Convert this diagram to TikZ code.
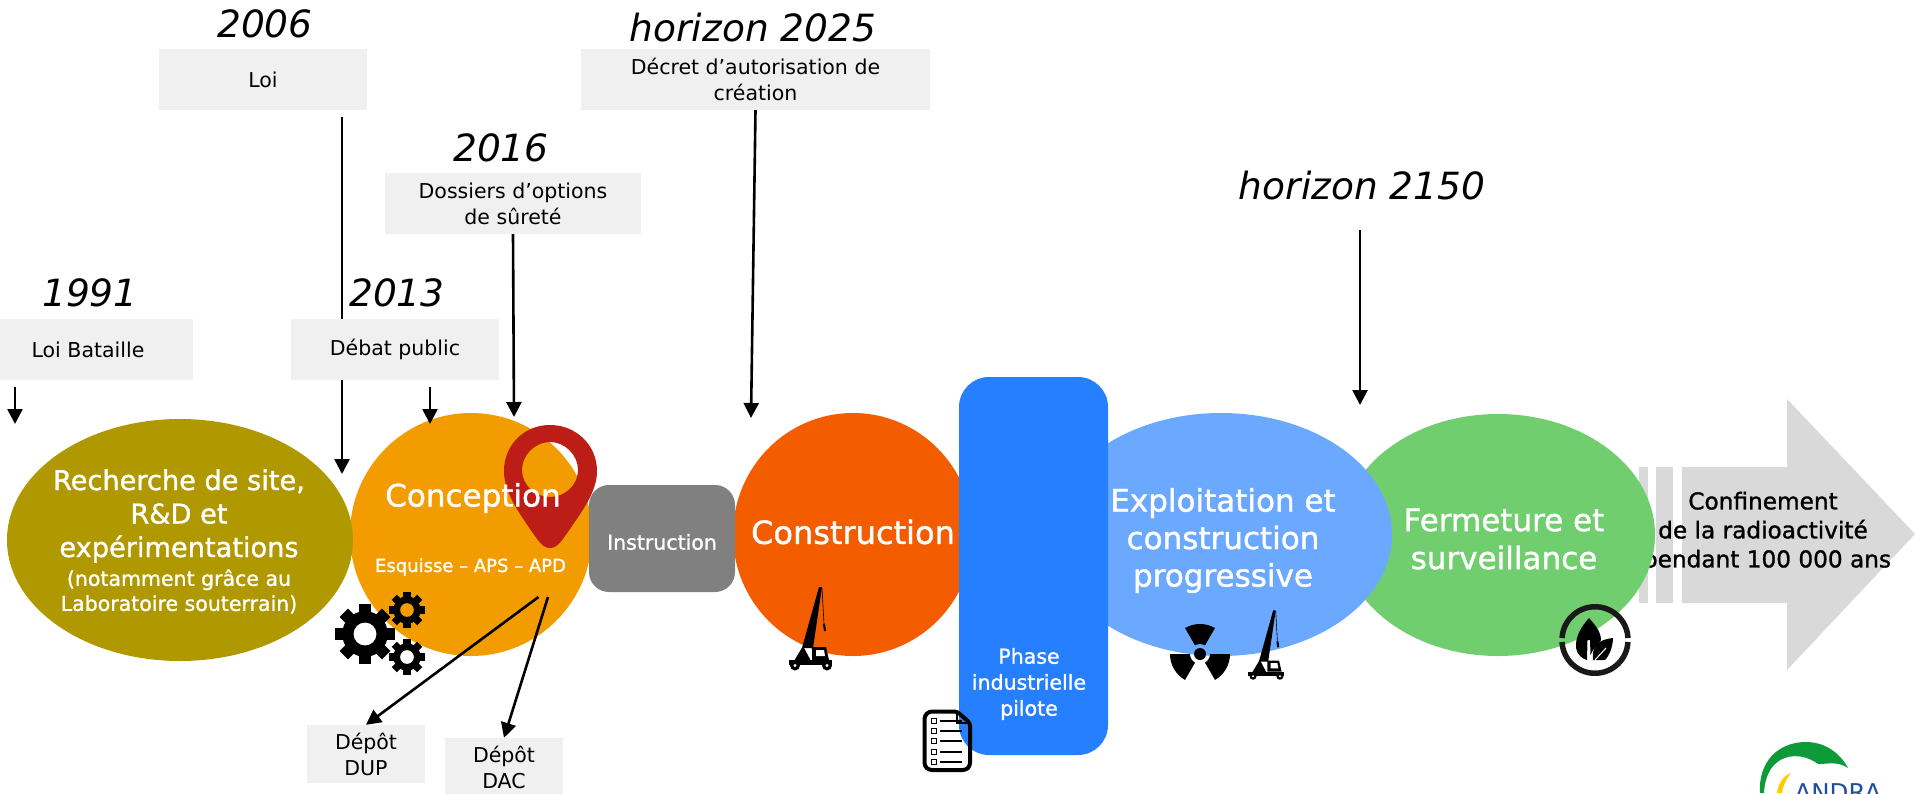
\documentclass[tikz,border=0pt]{standalone}
\usepackage{fontspec}
\setmainfont{DejaVu Sans}
\newfontfamily\medfont[FakeBold=1.2]{DejaVu Sans}
\usetikzlibrary{arrows.meta,shapes.geometric}
\definecolor{cOlive}{HTML}{B09800}
\definecolor{cOrange}{HTML}{F39C00}
\definecolor{cConstr}{HTML}{F45C00}
\definecolor{cPhase}{HTML}{267FFF}
\definecolor{cExpl}{HTML}{6BA8FF}
\definecolor{cFerm}{HTML}{71CE6F}
\definecolor{cInstr}{HTML}{808080}
\definecolor{cBox}{HTML}{F0F0F0}
\definecolor{cArrow}{HTML}{D9D9D9}
\definecolor{cPin}{HTML}{BC1E17}
\definecolor{cLogoG}{HTML}{0F9A3A}
\definecolor{cLogoY}{HTML}{FFCC00}
\definecolor{cLogoB}{HTML}{1F4E9C}
\tikzset{
  phaseell/.style={ellipse,inner sep=0pt,draw=none},
  labelbox/.style={rectangle,fill=cBox,inner sep=0pt,align=center,text=black,font=\fontsize{20.5}{26}\selectfont},
  yearlabel/.style={text=black,inner sep=0pt,font=\fontsize{37.5}{40}\selectfont\itshape},
  whitetxt/.style={text=white,inner sep=0pt,align=center},
  conn/.style={draw=black,line width=2.6pt,-{Triangle[length=15pt,width=15pt]}},
}
\newcommand{\gearicon}[4]{%
  \begin{scope}[shift={(#1,#2)}]
    \fill[black] (0,0) circle[radius=0.76*#3 pt];
    \foreach \a in {0,45,...,315}{
      \fill[black,rotate=\a] (0.6*#3,-0.2*#3) rectangle (#3,0.2*#3);
    }
    \fill[#4] (0,0) circle[radius=0.38*#3 pt];
  \end{scope}}
\newcommand{\craneicon}[3]{%
  \begin{scope}[shift={(#1,#2)},scale=#3]
    \fill[black] (13,-22) -- (30,-83) -- (33,-83) -- (24,-22) -- cycle;
    \fill[black] (5,-9) -- (14,-24) -- (22,-9) -- cycle;
    \draw[black,line width=0.6pt] (33,-82) -- (35,-46);
    \draw[black,line width=2pt] (35,-46) -- (36,-39);
    \fill[black] (0,-10) rectangle (43,-5);
    \fill[black] (23,-23) -- (37,-23) -- (40,-10) -- (23,-10) -- cycle;
    \fill[white] (27,-20) -- (35,-20) -- (36,-14) -- (27,-14) -- cycle;
    \fill[black] (6,-4.5) circle[radius=5pt*#3];
    \fill[black] (38,-4.5) circle[radius=5pt*#3];
    \fill[white] (6,-4.5) circle[radius=1.6pt*#3];
    \fill[white] (38,-4.5) circle[radius=1.6pt*#3];
  \end{scope}}
\begin{document}
\begin{tikzpicture}[x=1pt,y=-1pt]
\useasboundingbox (0,0) rectangle (1915,793);
\clip (0,0) rectangle (1915,793);
\fill[white] (0,0) rectangle (1915,793);

% grey arrow (behind the green ellipse)
\fill[cArrow] (1639,467) rectangle (1648,603);
\fill[cArrow] (1656,467) rectangle (1673,603);
\fill[cArrow] (1682,467) -- (1787,467) -- (1787,399) -- (1915,534) -- (1787,670) -- (1787,603) -- (1682,603) -- cycle;
\node[text=black,inner sep=0pt,align=center,font=\medfont\fontsize{23.2}{29}\selectfont] (confinement) at (1763,532) {Confinement\\de la radioactivité\\\hspace*{8pt}pendant 100 000 ans};

% phases
\node[phaseell,fill=cFerm,minimum width=314pt,minimum height=242pt] (fermeture) at (1498,535) {};
\node[phaseell,fill=cOrange,minimum width=242pt,minimum height=243pt] (conception) at (471,534.5) {};
\node[phaseell,fill=cOlive,minimum width=346pt,minimum height=242pt] (recherche) at (180,540) {};
\node[phaseell,fill=cConstr,minimum width=240pt,minimum height=243pt] (construction) at (853,534.5) {};
\node[phaseell,fill=cExpl,minimum width=342pt,minimum height=243pt] (exploitation) at (1221,534.5) {};
\node[rectangle,fill=cPhase,rounded corners=30pt,inner sep=0pt,minimum width=149pt,minimum height=378pt] (pilote) at (1033.5,566) {};

% location pin
\fill[cPin,even odd rule] (550,548)
   .. controls (542,548) and (538,540) .. (530,529)
   .. controls (518,511) and (504,492) .. (504,471)
   .. controls (504,445) and (524,425) .. (550,425)
   .. controls (576,425) and (597,445) .. (597,471)
   .. controls (597,492) and (582,511) .. (570,529)
   .. controls (562,540) and (558,548) .. (550,548) -- cycle
   (550,442) .. controls (535,442) and (522,455) .. (522,470)
   .. controls (522,485) and (535,497) .. (550,497)
   .. controls (565,497) and (578,485) .. (578,470)
   .. controls (578,455) and (565,442) .. (550,442) -- cycle;

\node[rectangle,fill=cInstr,rounded corners=20pt,inner sep=0pt,minimum width=146pt,minimum height=107pt] (instruction) at (662,538.5) {};

% phase texts
\node[whitetxt,font=\medfont\fontsize{27.2}{33.5}\selectfont] (tRech) at (179,516) {Recherche de site,\\R\&D et\\expérimentations};
\node[whitetxt,font=\medfont\fontsize{20.5}{25}\selectfont] (tRech2) at (179,591.5) {(notamment grâce au\\Laboratoire souterrain)};
\node[whitetxt,font=\medfont\fontsize{31}{34}\selectfont] (tConc) at (473,498) {Conception};
\node[whitetxt,font=\medfont\fontsize{18}{22}\selectfont] (tEsq) at (470.5,567) {Esquisse – APS – APD};
\node[whitetxt,font=\medfont\fontsize{20.5}{25}\selectfont] (tInstr) at (662,542) {Instruction};
\node[whitetxt,font=\medfont\fontsize{32}{35}\selectfont] (tConstr) at (853,532) {Construction};
\node[whitetxt,font=\medfont\fontsize{20.5}{26}\selectfont] (tPilote) at (1029,684) {Phase\\industrielle\\pilote};
\node[whitetxt,font=\medfont\fontsize{31}{37.5}\selectfont] (tExpl) at (1223,540.5) {Exploitation et\\construction\\progressive};
\node[whitetxt,font=\medfont\fontsize{31}{38}\selectfont] (tFerm) at (1504,539) {Fermeture et\\surveillance};

% connector ends
\coordinate (loiS) at (342,117);
\coordinate (loiE) at (342,474);
\coordinate (batS) at (15,387);
\coordinate (batE) at (15,424);
\coordinate (debS) at (430,387);
\coordinate (debE) at (430,424);
\coordinate (dosE) at (514,417);
\coordinate (decE) at (751,418);
\coordinate (horS) at (1360,230);
\coordinate (horE) at (1360,405);
\coordinate (dupS) at (538.5,597);
\coordinate (dacS) at (548,597);

\draw[conn] (loiS) -- (loiE);

% label boxes
\node[labelbox,minimum width=208pt,minimum height=61pt] (loi) at (263,79.5) {Loi};
\node[labelbox,minimum width=349pt,minimum height=61pt] (decret) at (755.5,79.5) {Décret d’autorisation de\\création};
\node[labelbox,minimum width=256pt,minimum height=61pt] (dossiers) at (513,203.5) {Dossiers d’options\\de sûreté};
\node[labelbox,minimum width=210pt,minimum height=61pt] (bataille) at (88,349.5) {Loi Bataille};
\node[labelbox,minimum width=208pt,minimum height=61pt] (debat) at (395,349.5) {Débat public};
\node[labelbox,minimum width=118pt,minimum height=58pt] (dup) at (366,754) {Dépôt\\DUP};
\node[labelbox,minimum width=118pt,minimum height=58pt] (dac) at (504,767) {Dépôt\\DAC};

% year labels
\node[yearlabel] (y2006) at (265,24) {2006};
\node[yearlabel] (y2025) at (753,28) {horizon 2025};
\node[yearlabel] (y2016) at (501,148) {2016};
\node[yearlabel] (y1991) at (90,293) {1991};
\node[yearlabel] (y2013) at (397,293) {2013};
\node[yearlabel] (y2150) at (1362,186) {horizon 2150};

% connectors
\draw[conn] (batS) -- (batE);
\draw[conn] (debS) -- (debE);
\draw[conn] (dossiers.south) -- (dosE);
\draw[conn] (decret.south) -- (decE);
\draw[conn] (horS) -- (horE);
\draw[conn] (dupS) -- (dup.north);
\draw[conn] (dacS) -- (dac.north);

% gears
\gearicon{365}{634}{30}{white}
\gearicon{407}{610}{18}{cOrange}
\gearicon{407}{657}{18}{white}

% cranes
\craneicon{789}{670}{1}
\craneicon{1248}{680}{0.84}

% radiation symbol
\begin{scope}[shift={(1200,654)}]
  \fill[black] (0,0) circle[radius=6pt];
  \foreach \a in {60,180,300}{
    \fill[black] (\a:10pt) -- (\a:30pt) arc[start angle=\a,delta angle=60,radius=30pt] -- (\a+60:10pt) arc[start angle=\a+60,delta angle=-60,radius=10pt] -- cycle;
  }
\end{scope}

% document icon
\draw[black,line width=4pt,line join=round,rounded corners=3pt] (957,711.5) -- (929,711.5) -- (924.5,716) -- (924.5,766) -- (929,770) -- (966,770) -- (970,766) -- (970,723) -- cycle;
\draw[black,line width=1.8pt] (957,711.5) -- (957,723) -- (970,723);
\foreach \yy in {721,731,741,752,762}{
  \draw[black,line width=1.4pt] (931.5,\yy-2.5) rectangle (936.5,\yy+2.5);
  \draw[black,line width=2.4pt] (940,\yy) -- (962,\yy);
}

% leaf icon
\draw[black!90,line width=5.5pt] (1628,638) arc[start angle=3,end angle=177,radius=33pt];
\draw[black!90,line width=5.5pt] (1562,642) arc[start angle=183,end angle=357,radius=33pt];
\fill[black] (1589,618) .. controls (1582,626) and (1575,636) .. (1576,648)
  .. controls (1577,655) and (1583,659) .. (1587,660) -- (1587.5,640) -- (1590,640) -- (1590.5,655)
  .. controls (1595,645) and (1600,642) .. (1601,640) .. controls (1601,630) and (1592,622) .. (1589,618) -- cycle;
\fill[black] (1613,638) .. controls (1604,639) and (1596,642) .. (1594,649)
  .. controls (1592,654) and (1593,657) .. (1593,660) -- (1605,660)
  .. controls (1610,655) and (1613,645) .. (1613,638) -- cycle;
\draw[white,line width=1pt] (1595,660) -- (1606,648);

% ANDRA logo
\fill[cLogoG] (1760,793) .. controls (1758,762) and (1778,742) .. (1806,742)
  .. controls (1825,742) and (1840,753) .. (1848,768)
  .. controls (1838,761) and (1828,764) .. (1818,764)
  .. controls (1800,750) and (1766,752) .. (1764,793) -- cycle;
\fill[cLogoY] (1777,793) .. controls (1778,784) and (1783,776) .. (1791,773)
  .. controls (1787,778) and (1783,785) .. (1782,793) -- cycle;
\node[text=cLogoB,inner sep=0pt,anchor=base,font=\fontsize{24.5}{26}\selectfont] (andra) at (1838,801) {ANDRA};
\end{tikzpicture}
\end{document}
